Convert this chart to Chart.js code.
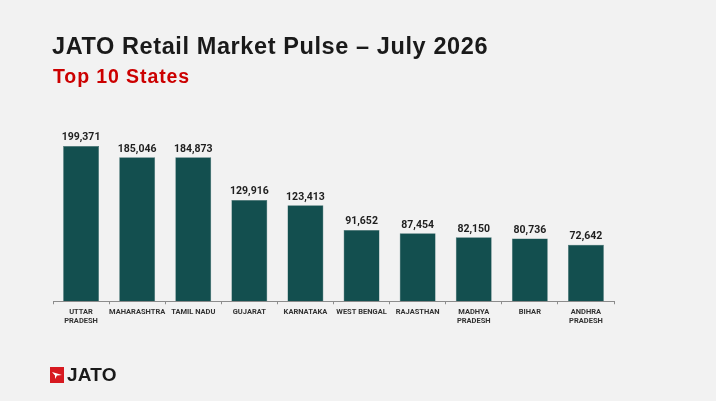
<!DOCTYPE html>
<html>
<head>
<meta charset="utf-8">
<script src="https://cdn.jsdelivr.net/npm/chart.js@4/dist/chart.umd.min.js"></script>
<style>
  html, body { margin: 0; padding: 0; background: #f2f2f2; }
  body { width: 716px; height: 401px; position: relative; overflow: hidden; font-family: "Liberation Sans", Arial, sans-serif; }
  #title { position: absolute; left: 52px; top: 33px; font-size: 23.5px; font-weight: bold; color: #1a1a1a; letter-spacing: 0.6px; white-space: nowrap; }
  #subtitle { position: absolute; left: 53px; top: 65px; font-size: 19.5px; font-weight: bold; color: #cc0000; letter-spacing: 0.9px; white-space: nowrap; }
  #chartBox { position: absolute; left: 0; top: 0; width: 716px; height: 401px; }
  #logo { position: absolute; left: 50px; top: 366px; height: 17px; display: flex; align-items: center; }
  #logo span { font-size: 19px; font-weight: bold; color: #1a1a1a; margin-left: 3px; letter-spacing: 0.2px; }
</style>
</head>
<body>
<div id="chartBox"><canvas id="myChart" width="716" height="401"></canvas></div>
<div id="title">JATO Retail Market Pulse – July 2026</div>
<div id="subtitle">Top 10 States</div>
<div id="logo">
  <svg width="14" height="16" viewBox="0 0 14 16">
    <rect width="14" height="16" fill="#d71920"/>
    <path d="M2 5 L12 8 L7 8.5 L5 12 L5 8.6 Z" fill="#ffffff"/>
  </svg>
  <span>JATO</span>
</div>
<script>
  var states = [['UTTAR', 'PRADESH'], 'MAHARASHTRA', 'TAMIL NADU', 'GUJARAT', 'KARNATAKA',
                'WEST BENGAL', 'RAJASTHAN', ['MADHYA', 'PRADESH'], 'BIHAR', ['ANDHRA', 'PRADESH']];
  var sales = [199371, 185046, 184873, 129916, 123413, 91652, 87454, 82150, 80736, 72642];

  // numbers above the bars
  var valueLabels = {
    id: 'valueLabels',
    afterDatasetsDraw: function(chart) {
      var ctx = chart.ctx;
      var meta = chart.getDatasetMeta(0);
      ctx.save();
      ctx.font = 'bold 10.5px Roboto';
      ctx.fillStyle = '#1e1e1e';
      ctx.textAlign = 'center';
      ctx.textBaseline = 'bottom';
      meta.data.forEach(function(bar, i) {
        ctx.fillText(sales[i].toLocaleString('en-US'), bar.x, bar.y - 3);
      });
      ctx.restore();
    }
  };

  function drawChart() {
    var ctx = document.getElementById('myChart').getContext('2d');
    var config = {
      type: 'bar',
      data: {
        labels: states,
        datasets: [{
          data: sales,
          backgroundColor: '#134f4f',
          borderColor: '#3d6b6b',
          borderWidth: 0.5,
          categoryPercentage: 0.64,
          barPercentage: 1
        }]
      },
      options: {
        responsive: false,
        animation: false,
        layout: { padding: { left: 53, right: 102, top: 146, bottom: 72 } },
        plugins: { legend: { display: false }, tooltip: { enabled: false } },
        scales: {
          x: {
            grid: { display: true, drawOnChartArea: false, offset: true, tickLength: 3, color: '#8c8c8c' },
            border: { color: '#8c8c8c', width: 1 },
            ticks: { color: '#333333', font: { family: 'Roboto', weight: 'bold', size: 7.5, lineHeight: 1.25 },
                     maxRotation: 0, autoSkip: false, padding: 3 }
          },
          y: {
            display: false,
            min: 0,
            max: 199371
          }
        }
      },
      plugins: [valueLabels]
    };
    new Chart(ctx, config);
  }

  window.onload = function() {
    drawChart();
  };
</script>
</body>
</html>
